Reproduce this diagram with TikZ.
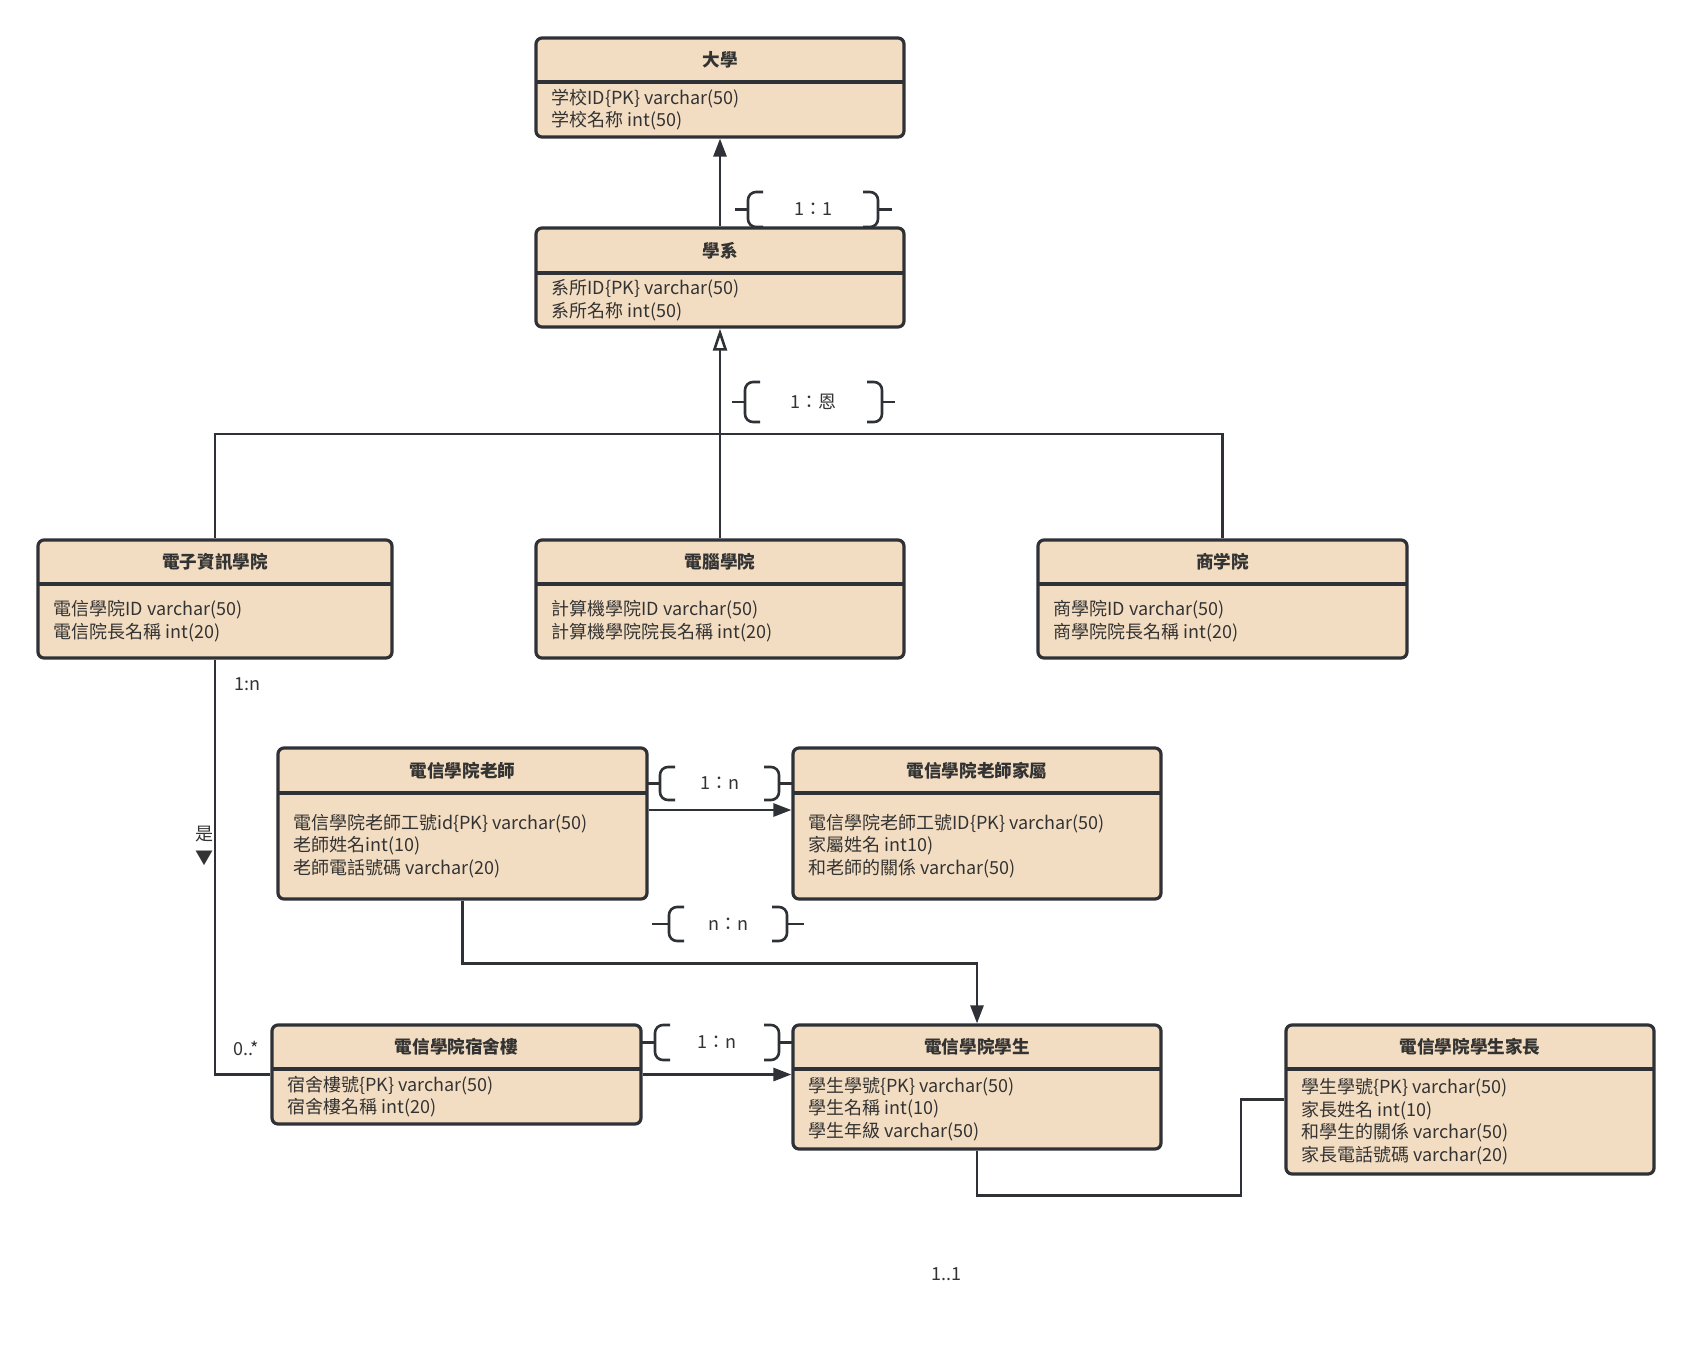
\documentclass[tikz,border=0pt]{standalone}
\usepackage{fontspec}
\setmainfont{Noto Sans CJK TC}
\usetikzlibrary{arrows.meta,fit,calc}
\definecolor{boxfill}{HTML}{F3DDC2}
\definecolor{ink}{HTML}{2E3135}
\definecolor{txt}{HTML}{333333}
\tikzset{
 ebox/.style={draw=ink, fill=boxfill, line width=1.6pt, rounded corners=3pt, inner sep=0pt},
 divline/.style={draw=ink, line width=1.6pt},
 etitle/.style={font=\fontsize{8.8}{11}\selectfont\bfseries, text=txt, inner sep=0pt},
 ebody/.style={font=\fontsize{9}{11.3}\selectfont, text=txt, align=left, inner sep=0pt, anchor=west},
 conn/.style={draw=ink, line width=1.35pt},
 filledtip/.style={-{Triangle[length=9pt,width=6.5pt]}},
 opentip/.style={-{Triangle[open,length=11pt,width=7pt,line width=1.3pt]}},
 bracepath/.style={draw=ink, line width=1.3pt, rounded corners=4pt},
 lbl/.style={font=\fontsize{9}{11}\selectfont, text=txt, inner sep=0pt},
}
% #1 name, #2 x1, #3 y1, #4 x2, #5 y2, #6 ydiv, #7 title, #8 body
\newcommand\entity[8]{%
 \coordinate (#1-nw) at (#2,#3);
 \coordinate (#1-se) at (#4,#5);
 \node[ebox, fit=(#1-nw)(#1-se)] (#1) {};
 \draw[divline] (#2,#6) -- (#4,#6);
 \node[etitle] (#1-title) at ({(#2+#4)/2},{(#3+#6)/2}) {#7};
 \node[ebody] (#1-body) at ({#2+15},{(#6+#5)/2}) {#8};
}
% #1 name, #2 x0, #3 x1, #4 x2, #5 x3, #6 top, #7 bottom, #8 label
\newcommand\relbrace[8]{%
 \draw[bracepath] ({#3+15},#6) -- (#3,#6) -- (#3,#7) -- ({#3+15},#7);
 \draw[bracepath] (#2,{(#6+#7)/2}) -- (#3,{(#6+#7)/2});
 \draw[bracepath] ({#4-15},#6) -- (#4,#6) -- (#4,#7) -- ({#4-15},#7);
 \draw[bracepath] (#4,{(#6+#7)/2}) -- (#5,{(#6+#7)/2});
 \node[lbl] (#1) at ({(#3+#4)/2},{(#6+#7)/2}) {#8};
}
\begin{document}
\begin{tikzpicture}[x=0.5pt,y=-0.5pt]
\useasboundingbox (0,0) rectangle (1692,1344);
\fill[white] (0,0) rectangle (1692,1344);

\entity{uni}{536}{38}{904}{137}{82}{大學}{学校ID\{PK\} varchar(50)\\学校名称 int(50)}
\entity{dept}{536}{228}{904}{327}{273}{學系}{系所ID\{PK\} varchar(50)\\系所名称 int(50)}
\entity{ee}{38}{540}{392}{658}{584}{電子資訊學院}{電信學院ID varchar(50)\\電信院長名稱 int(20)}
\entity{comp}{536}{540}{904}{658}{584}{電腦學院}{計算機學院ID varchar(50)\\計算機學院院長名稱 int(20)}
\entity{biz}{1038}{540}{1407}{658}{584}{商学院}{商學院ID varchar(50)\\商學院院長名稱 int(20)}
\entity{teacher}{278}{748}{647}{899}{793}{電信學院老師}{電信學院老師工號id\{PK\} varchar(50)\\老師姓名int(10)\\老師電話號碼 varchar(20)}
\entity{fam}{793}{748}{1161}{899}{793}{電信學院老師家屬}{電信學院老師工號ID\{PK\} varchar(50)\\家屬姓名 int10)\\和老師的關係 varchar(50)}
\entity{dorm}{272}{1025}{641}{1124}{1069}{電信學院宿舍樓}{宿舍樓號\{PK\} varchar(50)\\宿舍樓名稱 int(20)}
\entity{stu}{793}{1025}{1161}{1149}{1069}{電信學院學生}{學生學號\{PK\} varchar(50)\\學生名稱 int(10)\\學生年級 varchar(50)}
\entity{par}{1286}{1025}{1654}{1174}{1069}{電信學院學生家長}{學生學號\{PK\} varchar(50)\\家長姓名 int(10)\\和學生的關係 varchar(50)\\家長電話號碼 varchar(20)}

% connectors
\draw[conn, filledtip] (dept.north) -- (uni.south);
\coordinate (hub) at (721,434);
\draw[conn] (ee.north) |- (hub) -| (biz.north);
\draw[conn, opentip] (comp.north) -- (dept.south);

\coordinate (tA) at ([yshift=6.75pt]teacher.east);
\draw[conn, filledtip] (tA) -- (tA -| fam.west);
\draw[conn, filledtip] (teacher.south) -- ++(0,63) -| (stu.north);
\draw[conn] (ee.south) |- (dorm.west);
\draw[conn, filledtip] (dorm.east) -- (dorm.east -| stu.west);
\coordinate (sb) at (1241,1099.5);
\draw[conn] (stu.south) -- ++(0,45) -| (sb) -- (par.west);

% braces
\relbrace{b11}{735}{748}{878}{892}{192}{227}{1：1}
\relbrace{b1en}{732}{745}{882}{895}{382}{422}{1：恩}
\relbrace{b1nt}{647}{660}{779}{793}{767}{800}{1：n}
\relbrace{bnn}{652}{669}{787}{804}{907}{941}{n：n}
\relbrace{b1nd}{641}{655}{779}{793}{1025}{1060}{1：n}

% labels
\node[lbl] (l1n) at (247,684) {1:n};
\node[lbl] (l0s) at (246,1048) {0..*};
\node[lbl] (lshi) at (204,834) {是};
\node[lbl] (ltri) at (204,858) {▼};
\node[lbl] (l11) at (946,1274) {1..1};
\end{tikzpicture}
\end{document}
